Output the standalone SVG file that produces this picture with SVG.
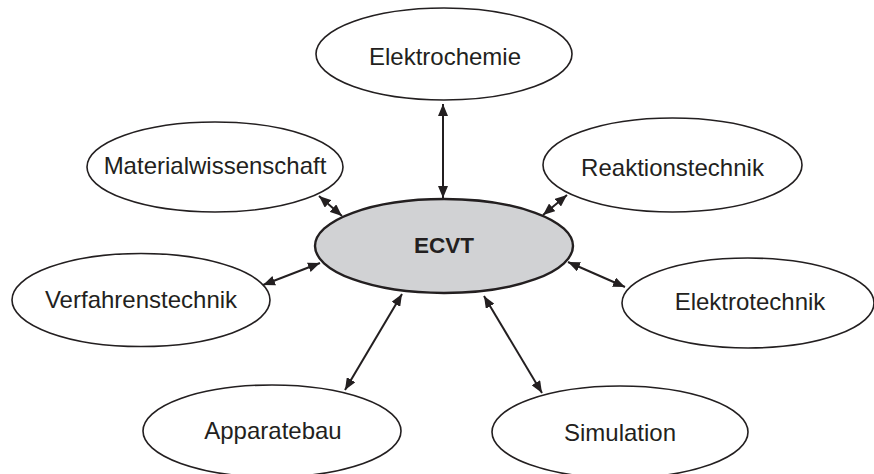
<svg xmlns="http://www.w3.org/2000/svg" width="874" height="474" viewBox="0 0 874 474">
<defs>
<marker id="ah" viewBox="0 0 12 10" refX="12" refY="5" markerWidth="12" markerHeight="10" markerUnits="userSpaceOnUse" orient="auto-start-reverse">
<path d="M0,0 L12,5 L0,10 Z" fill="#231f20"/>
</marker>
</defs>
<style>
.n ellipse{fill:#fff;stroke:#231f20;stroke-width:1.6}
.c ellipse{fill:#d1d2d4;stroke:#231f20;stroke-width:2.4}
text{font-family:"Liberation Sans",Arial,sans-serif;font-size:24px;fill:#231f20;text-anchor:middle}
.b{font-weight:bold;font-size:22.5px}
#edges line{stroke:#231f20;stroke-width:2;marker-start:url(#ah);marker-end:url(#ah)}
</style>
<rect width="874" height="474" fill="#fff"/>
<g id="edges">
<line x1="443" y1="104" x2="443" y2="198"/>
<line x1="319" y1="196" x2="342" y2="216"/>
<line x1="543" y1="215" x2="567" y2="195"/>
<line x1="263" y1="285" x2="320" y2="263"/>
<line x1="568" y1="262" x2="625" y2="287"/>
<line x1="484" y1="296" x2="542" y2="393"/>
<line x1="402" y1="294" x2="345" y2="390"/>
</g>
<g id="elektrochemie" class="n"><ellipse cx="444" cy="54" rx="128" ry="46"/><text x="445" y="65">Elektrochemie</text></g>
<g id="materialwissenschaft" class="n"><ellipse cx="215" cy="167" rx="128" ry="45"/><text x="215" y="174">Materialwissenschaft</text></g>
<g id="reaktionstechnik" class="n"><ellipse cx="672.5" cy="165" rx="129.5" ry="47"/><text x="672.5" y="176">Reaktionstechnik</text></g>
<g id="ecvt" class="c"><ellipse cx="444" cy="246" rx="129" ry="47"/><text class="b" x="444" y="253">ECVT</text></g>
<g id="verfahrenstechnik" class="n"><ellipse cx="141" cy="300" rx="129" ry="46.5"/><text x="141" y="308">Verfahrenstechnik</text></g>
<g id="elektrotechnik" class="n"><ellipse cx="748" cy="303" rx="126" ry="45"/><text x="750" y="310">Elektrotechnik</text></g>
<g id="apparatebau" class="n"><ellipse cx="272" cy="431" rx="129" ry="46"/><text x="273" y="439">Apparatebau</text></g>
<g id="simulation" class="n"><ellipse cx="620" cy="432" rx="128" ry="46"/><text x="620" y="441">Simulation</text></g>
</svg>
